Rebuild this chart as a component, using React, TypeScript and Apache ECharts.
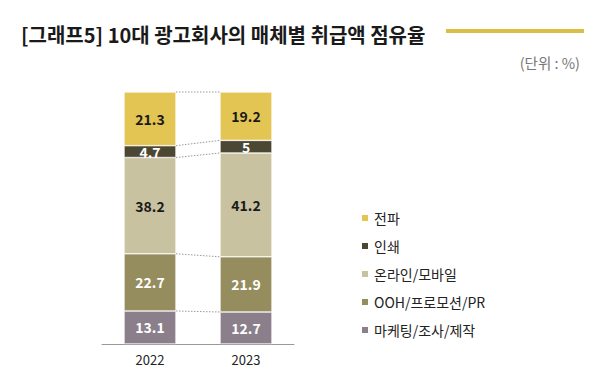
import React, { useEffect, useRef } from "react";
import * as echarts from "echarts";

const years = ["2022", "2023"];
const seriesNames = ["마케팅/조사/제작", "OOH/프로모션/PR", "온라인/모바일", "인쇄", "전파"];
const values2022 = [13.1, 22.7, 38.2, 4.7, 21.3];
const values2023 = [12.7, 21.9, 41.2, 5, 19.2];
const legendOrder = ["전파", "인쇄", "온라인/모바일", "OOH/프로모션/PR", "마케팅/조사/제작"];

const colors = ["#8A7F8B", "#958D5E", "#C8C2A0", "#4B4733", "#E3C553"];
const labelColors = ["#ffffff", "#ffffff", "#1a1a1a", "#ffffff", "#1a1a1a"];
const BAR_W = 52;

export default function App() {
  const ref = useRef<HTMLDivElement>(null);
  useEffect(() => {
    const chart = echarts.init(ref.current!, undefined, { renderer: "svg" });
    const cum: number[][] = [];
    let a = 0, b = 0;
    for (let i = 0; i < values2022.length; i++) {
      a += values2022[i];
      b += values2023[i];
      cum.push([Math.round(a * 10) / 10, Math.round(b * 10) / 10]);
    }
    const font = "'Noto Sans CJK KR', 'Noto Sans', sans-serif";
    const barSeries = seriesNames.map((name, i) => ({
      name,
      type: "bar",
      stack: "total",
      barWidth: BAR_W,
      data: [values2022[i], values2023[i]],
      itemStyle: { color: colors[i], borderColor: "#ffffff", borderWidth: 0.6 },
      label: {
        show: true,
        position: "inside",
        color: labelColors[i],
        fontSize: 14,
        fontWeight: "bold",
        fontFamily: font,
      },
      emphasis: { disabled: true },
    }));
    const connector = {
      type: "custom",
      name: "connector",
      z: 1,
      data: cum,
      renderItem: (params: any, api: any) => {
        const p1 = api.coord([0, api.value(0)]);
        const p2 = api.coord([1, api.value(1)]);
        return {
          type: "line",
          shape: { x1: p1[0] + BAR_W / 2, y1: p1[1], x2: p2[0] - BAR_W / 2, y2: p2[1] },
          style: { stroke: "#9a9a9a", lineWidth: 1, lineDash: [1.5, 1.5] },
        };
      },
      encode: { x: -1, y: [0, 1] },
      silent: true,
    };
    chart.setOption({
      animation: false,
      textStyle: { fontFamily: font },
      title: [
        {
          text: "[그래프5] 10대 광고회사의 매체별 취급액 점유율",
          left: 16,
          top: 19,
          textStyle: { fontSize: 20, fontWeight: "bold", color: "#1a1a1a", fontFamily: font },
        },
        {
          text: "(단위 : %)",
          right: 15,
          top: 50,
          textStyle: { fontSize: 14.5, fontWeight: "normal", color: "#777777", fontFamily: font },
        },
      ],
      graphic: [
        {
          type: "rect",
          shape: { x: 446, y: 29, width: 138, height: 4 },
          style: { fill: "#D9C044" },
        },
      ],
      legend: {
        data: legendOrder,
        orient: "vertical",
        left: 355,
        top: 206,
        itemWidth: 8,
        itemHeight: 8,
        itemGap: 14,
        icon: "rect",
        textStyle: { fontSize: 14, color: "#222222", fontFamily: font },
        selectedMode: false,
      },
      grid: { left: 102, width: 192, top: 92, height: 252 },
      xAxis: {
        type: "category",
        data: years,
        axisLine: { lineStyle: { color: "#999999", width: 1 } },
        axisTick: { show: false },
        axisLabel: { color: "#222222", fontSize: 13, margin: 9, fontFamily: font },
      },
      yAxis: {
        type: "value",
        min: 0,
        max: 100,
        show: false,
        splitLine: { show: false },
      },
      series: [...barSeries, connector],
    });
    return () => chart.dispose();
  }, []);
  return <div ref={ref} style={{ width: 600, height: 387, position: "absolute", left: 0, top: 0 }} />;
}
